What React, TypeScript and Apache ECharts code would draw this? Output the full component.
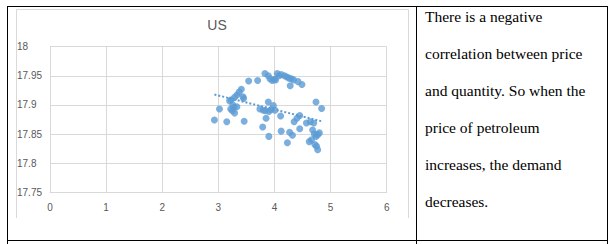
import React, { useEffect, useRef } from "react";
import * as echarts from "echarts";

const chartTitle = "US";

const priceX = [
  3.54, 3.7, 3.83, 3.89, 3.92, 3.96, 4.0, 4.02, 4.05, 4.08, 4.12, 4.18, 4.22, 4.26, 4.3, 4.34, 4.28, 4.42, 4.49,
  3.41, 3.37, 3.33, 3.29, 3.23, 3.2, 3.44, 3.45, 3.02, 2.93, 3.15, 3.46, 3.22, 3.25, 3.28, 3.33, 3.29, 3.26,
  3.89, 3.74, 3.8, 3.84, 3.9, 3.94, 3.98, 4.01, 3.85, 3.79, 3.9, 4.11, 4.12, 4.23, 4.27, 4.32, 4.35, 4.4, 4.45,
  4.45, 4.57, 4.64, 4.7, 4.74, 4.84, 4.68, 4.71, 4.74, 4.8, 4.77, 4.62, 4.66, 4.72, 4.75, 4.77,
];

const quantityY = [
  17.941, 17.942, 17.954, 17.95, 17.945, 17.942, 17.944, 17.943, 17.954, 17.95, 17.952, 17.95, 17.948, 17.946,
  17.945, 17.943, 17.933, 17.94, 17.935,
  17.927, 17.922, 17.917, 17.913, 17.909, 17.907, 17.914, 17.911, 17.893, 17.874, 17.871, 17.872, 17.893, 17.89,
  17.896, 17.897, 17.886, 17.9,
  17.905, 17.893, 17.891, 17.89, 17.889, 17.892, 17.899, 17.891, 17.877, 17.862, 17.846, 17.881, 17.855, 17.835,
  17.853, 17.848, 17.871, 17.877, 17.882, 17.859, 17.869, 17.871, 17.869, 17.905, 17.894, 17.857, 17.85, 17.846,
  17.852, 17.849, 17.837, 17.84, 17.832, 17.829, 17.823,
];

const trendX = [2.93, 4.84];
const trendY = [17.918, 17.872];

const paragraphLines = [
  "There is a negative",
  "correlation between price",
  "and quantity. So when the",
  "price of petroleum",
  "increases, the demand",
  "decreases.",
];

export default function App() {
  const ref = useRef<HTMLDivElement>(null);

  useEffect(() => {
    if (!ref.current) return;
    const chart = echarts.init(ref.current, undefined, { renderer: "svg" });
    const points = priceX.map((x, i) => [x, quantityY[i]]);
    const trend = trendX.map((x, i) => [x, trendY[i]]);
    const axisText = { color: "#595959", fontSize: 10, fontFamily: "Liberation Sans" };

    const textEls = paragraphLines.map((line, i) => ({
      type: "text",
      x: 425,
      y: 16.5 + i * 37,
      silent: true,
      style: {
        text: line,
        fill: "#000",
        font: "15.5px 'Liberation Serif'",
        verticalAlign: "middle",
        align: "left",
      },
    }));

    chart.setOption({
      animation: false,
      backgroundColor: "#fff",
      title: {
        text: chartTitle,
        left: 212,
        top: 13,
        textAlign: "center",
        textStyle: { color: "#595959", fontSize: 14, fontWeight: "normal", fontFamily: "Liberation Sans" },
      },
      grid: { left: 50, right: 228.3, top: 46.7, bottom: 51.7 },
      xAxis: {
        type: "value",
        min: 0,
        max: 6,
        interval: 1,
        axisLine: { show: true, lineStyle: { color: "#d9d9d9" } },
        axisTick: { show: false },
        splitLine: { show: true, lineStyle: { color: "#d9d9d9" } },
        axisLabel: { ...axisText, margin: 10 },
      },
      yAxis: {
        type: "value",
        min: 17.75,
        max: 18,
        interval: 0.05,
        axisLine: { show: false },
        axisTick: { show: false },
        splitLine: { show: true, lineStyle: { color: "#d9d9d9" } },
        axisLabel: { ...axisText, align: "left", margin: 33 },
      },
      series: [
        {
          type: "scatter",
          data: points,
          symbol: "circle",
          symbolSize: 7,
          itemStyle: { color: "#5B9BD5" },
          z: 3,
        },
        {
          type: "line",
          data: trend,
          symbol: "none",
          lineStyle: { color: "#5B9BD5", width: 2, type: [2, 2] },
          z: 4,
        },
      ],
      graphic: [
        {
          type: "polyline",
          silent: true,
          z: -10,
          shape: { points: [[16.5, 218], [16.5, 9.5], [408.5, 9.5], [408.5, 218]] },
          style: { stroke: "#d9d9d9", fill: null, lineWidth: 1 },
        },
        { type: "line", silent: true, shape: { x1: 7, y1: 6.5, x2: 608, y2: 6.5 }, style: { stroke: "#000", lineWidth: 1 } },
        { type: "line", silent: true, shape: { x1: 7, y1: 240.5, x2: 608, y2: 240.5 }, style: { stroke: "#000", lineWidth: 1 } },
        { type: "line", silent: true, shape: { x1: 7.5, y1: 6, x2: 7.5, y2: 244 }, style: { stroke: "#000", lineWidth: 1 } },
        { type: "line", silent: true, shape: { x1: 416.5, y1: 6, x2: 416.5, y2: 244 }, style: { stroke: "#000", lineWidth: 1 } },
        { type: "line", silent: true, shape: { x1: 607.5, y1: 6, x2: 607.5, y2: 244 }, style: { stroke: "#000", lineWidth: 1 } },
        ...textEls,
      ],
    });
    return () => chart.dispose();
  }, []);

  return (
    <div
      ref={ref}
      style={{ position: "fixed", left: 0, top: 0, width: 615, height: 244, background: "#fff" }}
    />
  );
}
